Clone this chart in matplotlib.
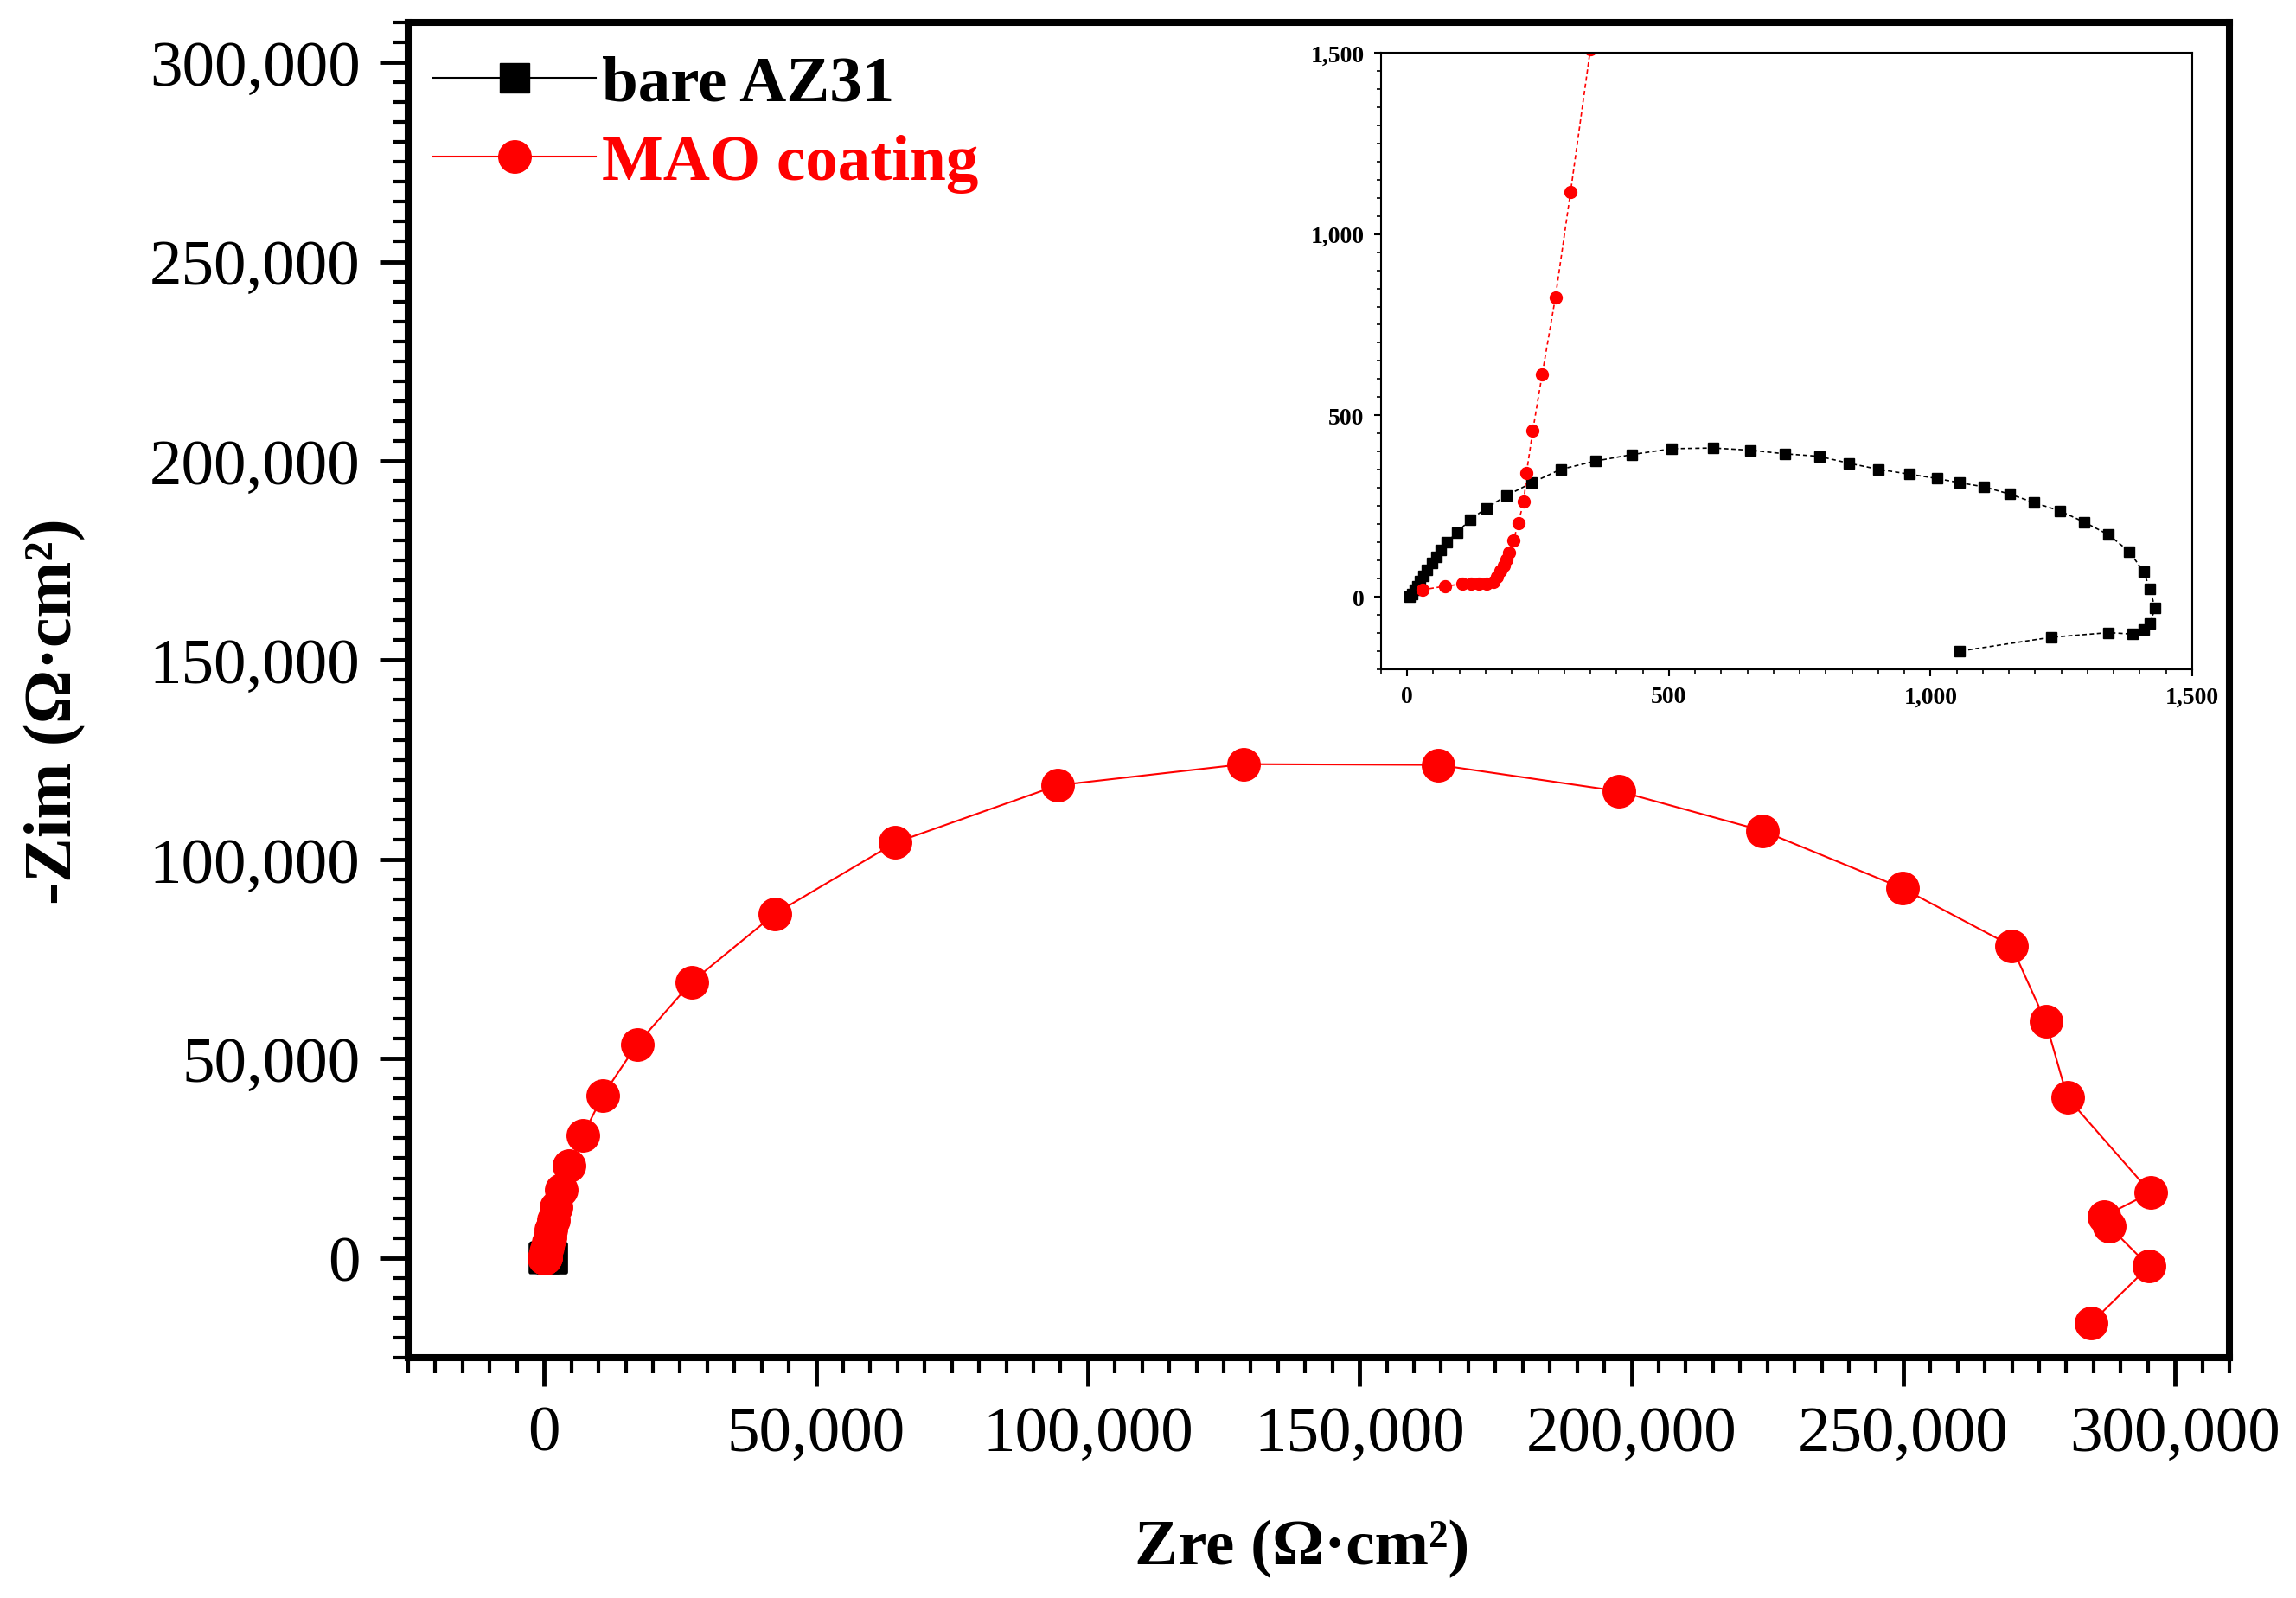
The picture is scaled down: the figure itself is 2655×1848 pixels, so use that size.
import matplotlib
matplotlib.use("Agg")
import matplotlib.pyplot as plt
from matplotlib.ticker import MultipleLocator, FuncFormatter

plt.rcParams["font.family"] = ["Liberation Serif", "DejaVu Serif"]

# bare AZ31 Nyquist data (ohm cm2)
bare_x = [5, 9, 14, 19, 25, 31, 38, 47, 55, 64, 76, 95, 121, 151, 190, 238, 293,
          360, 430, 506, 584, 655, 721, 787, 844, 901, 959, 1012, 1056, 1102, 1151,
          1197, 1248, 1293, 1340, 1380, 1407, 1419, 1429, 1419, 1407, 1386, 1340,
          1230, 1056]
bare_y = [0, 8, 18, 28, 42, 58, 74, 93, 110, 129, 150, 177, 213, 244, 279, 314, 351,
          374, 392, 408, 410, 404, 394, 387, 368, 351, 338, 326, 314, 303, 283,
          260, 236, 206, 171, 124, 69, 22, -32, -74, -90, -103, -99,
          -112, -150]

# MAO coating Nyquist data (ohm cm2)
mao_x = [29, 72, 105, 122, 137, 151, 165, 172, 178, 184, 190, 195, 203, 212, 223,
         228, 240, 258, 283, 312, 350, 430, 560, 750, 1000, 1300, 1650, 2200, 3200,
         4650, 7150, 10800, 17100, 27100, 42500, 64600, 94500, 128700, 164500,
         197700, 224100, 249800, 269900, 276200, 280200, 295500, 286900, 287900,
         295200, 284600]
mao_y = [19, 29, 35, 37, 36, 36, 41, 54, 71, 86, 103, 122, 154, 203, 263,
         342, 458, 614, 824, 1115, 1510, 2050, 2800, 3800, 5200, 7000, 9500, 12700,
         17000, 23200, 30800, 40800, 53600, 69200, 86400, 104200, 118600, 123900,
         123700, 117100, 107200, 92800, 78300, 59300, 40200, 16400, 10400, 7900,
         -2100, -16300]

comma = FuncFormatter(lambda v, p: f"{v:,.0f}")

fig = plt.figure(figsize=(26.55, 18.49), dpi=100)
ax = fig.add_axes([0.1778, 0.1504, 0.7932, 0.8350])

ax.plot(bare_x, bare_y, color="black", marker="s", markersize=25, lw=1.5,
        label="bare AZ31", zorder=3)
ax.plot(mao_x, mao_y, color="red", marker="o", markersize=27, lw=1.5,
        label="MAO coating", zorder=4)

ax.set_xlim(-25000, 310000)
ax.set_ylim(-25000, 310000)
ax.xaxis.set_major_locator(MultipleLocator(50000))
ax.xaxis.set_minor_locator(MultipleLocator(5000))
ax.yaxis.set_major_locator(MultipleLocator(50000))
ax.yaxis.set_minor_locator(MultipleLocator(5000))
ax.xaxis.set_major_formatter(comma)
ax.yaxis.set_major_formatter(comma)
ax.tick_params(which="major", direction="out", length=24, width=3.5,
               labelsize=54, pad=16)
ax.tick_params(which="minor", direction="out", length=13, width=3)
for s in ax.spines.values():
    s.set_linewidth(5.8)

leg = ax.legend(loc="upper left", bbox_to_anchor=(-0.004, 1.0), frameon=False,
                prop={"weight": "bold", "size": 54}, handlelength=2.5,
                handletextpad=0.1, labelspacing=0.3, borderaxespad=0.1,
                labelcolor="linecolor")

fig.text(0.024, 0.555, "-Zim (\u03a9\u00b7cm\u00b2)", rotation=90, ha="center",
         va="center", fontsize=56, fontweight="bold")
fig.text(0.567, 0.031, "Zre (\u03a9\u00b7cm\u00b2)", ha="center", va="center",
         fontsize=54, fontweight="bold")

# inset: zoom on the high-frequency region
ins = fig.add_axes([0.6015, 0.5809, 0.3533, 0.3856])
ins.plot(bare_x, bare_y, color="black", marker="s", markersize=8.5, lw=1.2,
         ls=(0, (3, 2)))
ins.plot(mao_x, mao_y, color="red", marker="o", markersize=10, lw=1.2,
         ls=(0, (3, 2)))
ins.set_xlim(-50, 1500)
ins.set_ylim(-200, 1500)
ins.xaxis.set_major_locator(MultipleLocator(500))
ins.xaxis.set_minor_locator(MultipleLocator(50))
ins.yaxis.set_major_locator(MultipleLocator(500))
ins.yaxis.set_minor_locator(MultipleLocator(50))
ins.xaxis.set_major_formatter(comma)
ins.yaxis.set_major_formatter(comma)
ins.tick_params(which="major", direction="out", length=6, width=1.5,
                labelsize=20, pad=8)
ins.tick_params(which="minor", direction="out", length=3.5, width=1.2)
for lab in ins.get_xticklabels() + ins.get_yticklabels():
    lab.set_fontweight("bold")
for s in ins.spines.values():
    s.set_linewidth(1.5)

fig.savefig("out.png", dpi=100)
